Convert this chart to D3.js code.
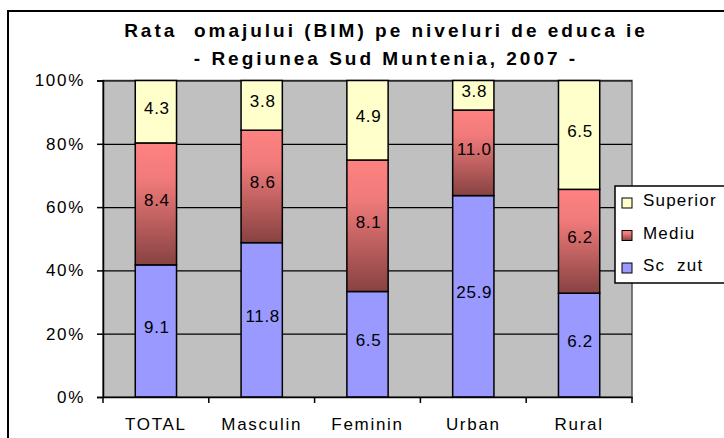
<!DOCTYPE html>
<html>
<head>
<meta charset="utf-8">
<script src="https://cdn.jsdelivr.net/npm/d3@7"></script>
<style>
  body { margin: 0; background: #fff; }
  svg text { font-family: "Liberation Sans", Arial, sans-serif; white-space: pre; }
</style>
</head>
<body>
<svg id="chart" width="724" height="438"></svg>
<script>
// values
var categories = ["TOTAL", "Masculin", "Feminin", "Urban", "Rural"];
var scazut   = [9.1, 11.8, 6.5, 25.9, 6.2];
var mediu    = [8.4, 8.6, 8.1, 11.0, 6.2];
var superior = [4.3, 3.8, 4.9, 3.8, 6.5];
var seriesKeys = ["Sc  zut", "Mediu", "Superior"];
var yTicks = [0, 0.2, 0.4, 0.6, 0.8, 1];
var titleLines = ["Rata  omajului (BIM) pe niveluri de educa ie", "- Regiunea Sud Muntenia, 2007 -"];

var plot = {left: 103, right: 632, top: 80.5, bottom: 397};

var rows = categories.map(function(c, i) {
  return {cat: c, "Sc  zut": scazut[i], "Mediu": mediu[i], "Superior": superior[i]};
});

var svg = d3.select("#chart");

var defs = svg.append("defs");
var grad = defs.append("linearGradient")
  .attr("id", "gradMediu")
  .attr("x1", 0).attr("y1", 0).attr("x2", 0).attr("y2", 1);
grad.append("stop").attr("offset", "0%").attr("stop-color", "#ff8282");
grad.append("stop").attr("offset", "30%").attr("stop-color", "#f07a7a");
grad.append("stop").attr("offset", "100%").attr("stop-color", "#884242");

var fills = {"Sc  zut": "#9999ff", "Mediu": "url(#gradMediu)", "Superior": "#ffffcc"};

// chart frame
svg.append("rect")
  .attr("x", 8).attr("y", 11)
  .attr("width", 760).attr("height", 440)
  .attr("fill", "#fff")
  .attr("stroke", "#000")
  .attr("stroke-width", 2);

// title
svg.append("g").selectAll("text")
  .data(titleLines)
  .enter().append("text")
  .attr("x", 386)
  .attr("y", function(d, i) { return 37 + i * 28; })
  .attr("text-anchor", "middle")
  .attr("font-size", 19)
  .attr("font-weight", "bold")
  .attr("letter-spacing", 3)
  .attr("xml:space", "preserve")
  .text(function(d) { return d; });

var x = d3.scaleBand()
  .domain(categories)
  .range([plot.left, plot.right])
  .paddingInner(0.61)
  .paddingOuter(0.305);

var y = d3.scaleLinear()
  .domain([0, 1])
  .range([plot.bottom, plot.top]);

// plot area
svg.append("rect")
  .attr("x", plot.left).attr("y", plot.top)
  .attr("width", plot.right - plot.left)
  .attr("height", plot.bottom - plot.top)
  .attr("fill", "#c0c0c0")
  .attr("stroke", "#555")
  .attr("stroke-width", 1.5);

// gridlines
svg.append("g")
  .attr("transform", "translate(" + plot.left + ",0)")
  .call(d3.axisLeft(y)
    .tickValues(yTicks)
    .tickSize(-(plot.right - plot.left))
    .tickFormat(function() { return ""; }))
  .call(function(g) { g.select(".domain").remove(); })
  .selectAll("line")
  .attr("stroke", "#000")
  .attr("stroke-width", 1.2);

var stack = d3.stack()
  .keys(seriesKeys)
  .offset(d3.stackOffsetExpand);
var series = stack(rows);

var layers = svg.append("g").selectAll("g")
  .data(series)
  .enter().append("g")
  .attr("fill", function(d) { return fills[d.key]; });

layers.selectAll("rect")
  .data(function(d) { return d; })
  .enter().append("rect")
  .attr("x", function(d) { return x(d.data.cat); })
  .attr("y", function(d) { return y(d[1]); })
  .attr("width", x.bandwidth())
  .attr("height", function(d) { return y(d[0]) - y(d[1]); })
  .attr("stroke", "#000")
  .attr("stroke-width", 1.5);

// value labels
var fmt = d3.format(".1f");
layers.each(function(s) {
  d3.select(this).selectAll("text")
    .data(s)
    .enter().append("text")
    .attr("x", function(d) { return x(d.data.cat) + x.bandwidth() / 2 + 1; })
    .attr("y", function(d) { return (y(d[0]) + y(d[1])) / 2 - 4; })
    .attr("dy", "0.35em")
    .attr("text-anchor", "middle")
    .attr("font-size", 17)
    .attr("letter-spacing", 0.7)
    .attr("fill", "#000")
    .text(function(d) { return fmt(d.data[s.key]); });
});

// y axis
var yAxis = svg.append("g")
  .attr("transform", "translate(" + plot.left + ",0)")
  .call(d3.axisLeft(y)
    .tickValues(yTicks)
    .tickSize(6)
    .tickPadding(12)
    .tickFormat(d3.format(".0%")));
yAxis.select(".domain").attr("stroke", "#000").attr("stroke-width", 1.5);
yAxis.selectAll("line").attr("stroke", "#000").attr("stroke-width", 1.5);
yAxis.selectAll("text")
  .attr("font-size", 17)
  .attr("letter-spacing", 1.7)
  .attr("fill", "#000");

// x axis
var bounds = d3.range(categories.length + 1).map(function(i) { return plot.left + i * x.step(); });
var xAxis = svg.append("g")
  .attr("transform", "translate(0," + plot.bottom + ")")
  .call(d3.axisBottom(x).tickSize(0).tickPadding(21));
xAxis.select(".domain").attr("stroke", "#000").attr("stroke-width", 1.5);
xAxis.selectAll("text")
  .attr("font-size", 17)
  .attr("letter-spacing", 1.7)
  .attr("fill", "#000");
xAxis.selectAll(".bound")
  .data(bounds)
  .enter().append("line")
  .attr("class", "bound")
  .attr("x1", function(d) { return d; })
  .attr("x2", function(d) { return d; })
  .attr("y1", 0).attr("y2", 6)
  .attr("stroke", "#000")
  .attr("stroke-width", 1.5);

// legend
var legend = svg.append("g").attr("transform", "translate(615,186)");
legend.append("rect")
  .attr("width", 140).attr("height", 97)
  .attr("fill", "#fff")
  .attr("stroke", "#000")
  .attr("stroke-width", 1.5);
var items = legend.selectAll(".item")
  .data(seriesKeys.slice().reverse())
  .enter().append("g")
  .attr("class", "item")
  .attr("transform", function(d, i) { return "translate(7," + (12 + i * 32.5) + ")"; });
items.append("rect")
  .attr("width", 10).attr("height", 10)
  .attr("fill", function(d) { return fills[d]; })
  .attr("stroke", "#000")
  .attr("stroke-width", 1);
items.append("text")
  .attr("x", 21).attr("y", 8)
  .attr("font-size", 17)
  .attr("letter-spacing", 1.2)
  .attr("fill", "#000")
  .attr("xml:space", "preserve")
  .text(function(d) { return d; });
</script>
</body>
</html>
